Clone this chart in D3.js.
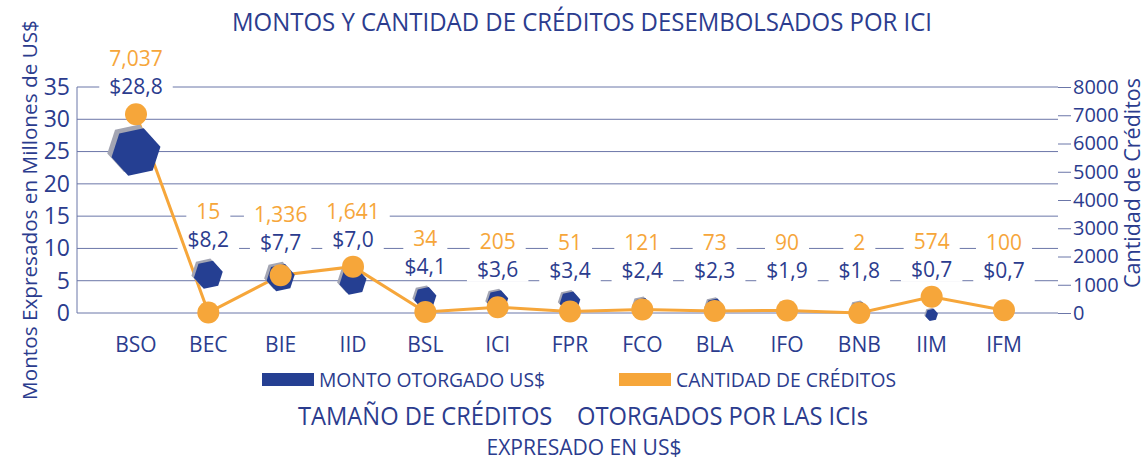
<!DOCTYPE html>
<html>
<head>
<meta charset="utf-8">
<script src="https://cdn.jsdelivr.net/npm/d3@7"></script>
<style>
  body { margin: 0; background: #fff; }
  svg { display: block; font-family: "Open Sans", sans-serif; font-weight: 500; }
  .grid line { stroke: #6b76a8; stroke-width: 1; }
</style>
</head>
<body>
<div id="chart"></div>
<script>
// Data
const categories = ["BSO", "BEC", "BIE", "IID", "BSL", "ICI", "FPR", "FCO", "BLA", "IFO", "BNB", "IIM", "IFM"];
const montos = [28.8, 8.2, 7.7, 7.0, 4.1, 3.6, 3.4, 2.4, 2.3, 1.9, 1.8, 0.7, 0.7];      // millones US$
const cantidades = [7037, 15, 1336, 1641, 34, 205, 51, 121, 73, 90, 2, 574, 100];     // creditos
const leftTicks = [0, 5, 10, 15, 20, 25, 30, 35];
const rightTicks = [0, 1000, 2000, 3000, 4000, 5000, 6000, 7000, 8000];

const blue = "#2b3c8e";
const hexBlue = "#253f92";
const orange = "#f6a63a";

const W = 1148, H = 460;
const svg = d3.select("#chart").append("svg").attr("width", W).attr("height", H);

// Scales
const x = d3.scalePoint().domain(categories).range([136, 1004]);
const y = d3.scaleLinear().domain([0, 35]).range([313, 87]);
const yR = d3.scaleLinear().domain([0, 8000]).range([313, 87]);
const r = d3.scaleSqrt().domain([0, 28.8]).range([3, 25]);

const es = d3.formatLocale({decimal: ",", thousands: ".", grouping: [3], currency: ["$", ""]});
const fmtMonto = es.format("$.1f");
const fmtCant = d3.format(",");

const data = categories.map((c, i) => ({key: c, monto: montos[i], cant: cantidades[i]}));

// shrink the font until the text only needs a light squeeze to fit the width
function fit(t, target, squeeze = 0.93) {
  const fs = parseFloat(t.style("font-size"));
  const w = t.node().getComputedTextLength();
  if (w * squeeze > target) t.style("font-size", (fs * target / (w * squeeze)) + "px");
  if (squeeze < 1) t.attr("textLength", target).attr("lengthAdjust", "spacingAndGlyphs");
}

///////////////////////////////////////////////////////////////////////////////
// Titles
fit(svg.append("text")
    .attr("x", 582).attr("y", 31)
    .attr("text-anchor", "middle")
    .style("font-size", "25px").style("fill", blue)
    .text("MONTOS Y CANTIDAD DE CRÉDITOS DESEMBOLSADOS POR ICI"), 700);

fit(svg.append("text")
    .attr("transform", "translate(37, 210) rotate(-90)")
    .attr("text-anchor", "middle")
    .style("font-size", "23px").style("fill", blue)
    .text("Montos Expresados en Millones de US$"), 380, 1);

fit(svg.append("text")
    .attr("transform", "translate(1140, 183) rotate(-90)")
    .attr("text-anchor", "middle")
    .style("font-size", "22px").style("fill", blue)
    .text("Cantidad de Créditos"), 210);

///////////////////////////////////////////////////////////////////////////////
// Grid + axes
const grid = svg.append("g").attr("class", "grid");
grid.selectAll("line.h")
  .data(leftTicks)
  .enter().append("line")
    .attr("class", "h")
    .attr("x1", 77).attr("x2", 1058)
    .attr("y1", d => y(d)).attr("y2", d => y(d));

svg.append("line")
    .attr("x1", 77).attr("x2", 77)
    .attr("y1", y(0)).attr("y2", y(35))
    .style("stroke", "#6b76a8");

const leftAxis = svg.append("g")
    .attr("transform", "translate(77, 0)")
    .call(d3.axisLeft(y).tickValues(leftTicks).tickSize(0).tickPadding(7));
leftAxis.select(".domain").remove();
leftAxis.selectAll("text")
    .style("font-size", "23px").style("fill", blue)
    .style("font-family", "'Open Sans', sans-serif");

const rightAxis = svg.append("g")
    .attr("transform", "translate(1058, 0)")
    .call(d3.axisRight(yR).tickValues(rightTicks).tickSize(13).tickPadding(2).tickFormat(d3.format("d")));
rightAxis.select(".domain").remove();
rightAxis.selectAll("line").style("stroke", "#6b76a8");
rightAxis.selectAll("text")
    .style("font-size", "20px").style("fill", blue)
    .style("font-family", "'Open Sans', sans-serif");

// X labels
svg.append("g").selectAll("text")
  .data(categories)
  .enter().append("text")
    .attr("x", d => x(d)).attr("y", 352)
    .attr("text-anchor", "middle")
    .style("font-size", "21px").style("fill", blue)
    .text(d => d);

///////////////////////////////////////////////////////////////////////////////
// Value labels (white box behind so the grid breaks)
const circR = 11;
const labelBase = d => Math.min(y(d.monto) - 4, yR(d.cant) - circR, y(4)) - 9;

const labels = svg.append("g").selectAll("g")
  .data(data)
  .enter().append("g");

function addLabel(sel, textFn, yFn, color) {
  sel.each(function(d) {
    const g = d3.select(this);
    const bg = g.append("rect").style("fill", "#fff");
    const t = g.append("text")
        .attr("x", x(d.key)).attr("y", yFn(d))
        .attr("text-anchor", "middle")
        .style("font-size", "21px").style("fill", color)
        .text(textFn(d));
    const w = t.node().getComputedTextLength();
    bg.attr("x", x(d.key) - w / 2 - 10).attr("y", yFn(d) - 17)
      .attr("width", w + 20).attr("height", 22);
  });
}
addLabel(labels, d => fmtMonto(d.monto), d => labelBase(d), blue);
addLabel(labels, d => fmtCant(d.cant), d => labelBase(d) - 28, orange);

///////////////////////////////////////////////////////////////////////////////
// Orange line
svg.append("path")
    .datum(data)
    .attr("d", d3.line().x(d => x(d.key)).y(d => yR(d.cant)))
    .style("fill", "none").style("stroke", orange).style("stroke-width", 3);

// Hexagons (hang from the value line)
function hexPoints(rad) {
  return d3.range(6).map(k => {
    const a = (k * 60 - 12) * Math.PI / 180;
    return [rad * Math.cos(a), rad * Math.sin(a)];
  }).join(" ");
}
const hex = svg.append("g").selectAll("g")
  .data(data)
  .enter().append("g")
    .attr("transform", d => `translate(${x(d.key)}, ${y(d.monto) + r(d.monto)})`);
hex.append("polygon")
    .attr("points", d => hexPoints(r(d.monto)))
    .attr("transform", d => `translate(${-r(d.monto) * 0.17}, ${-r(d.monto) * 0.15})`)
    .style("fill", "#a3a5b3");
hex.append("polygon")
    .attr("points", d => hexPoints(r(d.monto)))
    .style("fill", hexBlue);

// Circles
svg.append("g").selectAll("circle")
  .data(data)
  .enter().append("circle")
    .attr("cx", d => x(d.key)).attr("cy", d => yR(d.cant))
    .attr("r", circR)
    .style("fill", orange);

///////////////////////////////////////////////////////////////////////////////
// Legend
const legend = [
  {label: "MONTO OTORGADO US$", color: hexBlue, x: 262, w: 226},
  {label: "CANTIDAD DE CRÉDITOS", color: orange, x: 619, w: 220}
];
const lg = svg.append("g").selectAll("g")
  .data(legend)
  .enter().append("g")
    .attr("transform", d => `translate(${d.x}, 373)`);
lg.append("rect").attr("width", 52).attr("height", 13).style("fill", d => d.color);
lg.append("text")
    .attr("x", 57).attr("y", 14)
    .style("font-size", "20px").style("fill", blue)
    .text(d => d.label)
    .each(function(d) { fit(d3.select(this), d.w); });

// Bottom titles
fit(svg.append("text")
    .attr("x", 583).attr("y", 425)
    .attr("text-anchor", "middle")
    .style("white-space", "pre")
    .style("font-size", "27px").style("fill", blue)
    .text("TAMAÑO DE CRÉDITOS    OTORGADOS POR LAS ICIs"), 570);

fit(svg.append("text")
    .attr("x", 584).attr("y", 455)
    .attr("text-anchor", "middle")
    .style("font-size", "22px").style("fill", blue)
    .text("EXPRESADO EN US$"), 195);
</script>
</body>
</html>
